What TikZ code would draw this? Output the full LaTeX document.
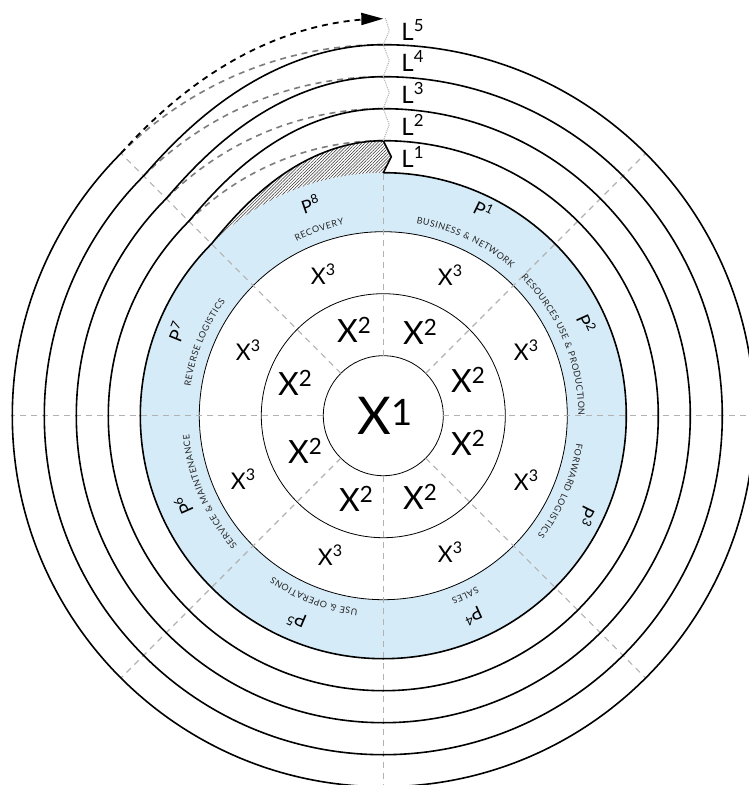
\documentclass[tikz,border=0pt]{standalone}
\usepackage{fontspec}
\setmainfont{Lato}
\usetikzlibrary{arrows.meta, patterns.meta}
\definecolor{bandblue}{RGB}{214,235,248}
\definecolor{raygray}{RGB}{178,178,178}
\definecolor{ringgray}{RGB}{125,125,125}
\newcommand{\catfont}{\fontsize{9}{10}\selectfont}
% letters of #3 (letter/width in em) set clockwise on radius #2, centred on angle #1
\newcommand{\arcword}[3]{%
    \gdef\arcsum{0}%
    \foreach \c/\w in {#3} {\pgfmathsetmacro\arctmp{\arcsum+\w*9+0.6}\xdef\arcsum{\arctmp}}%
    \pgfmathsetmacro\arctmp{#1+\arcsum/2/#2*180/pi}\xdef\arcpos{\arctmp}%
    \foreach \c/\w in {#3} {%
        \pgfmathsetmacro\chalf{(\w*9+0.6)/2/#2*180/pi}%
        \pgfmathsetmacro\cmid{\arcpos-\chalf}%
        \node[catletter, rotate=\cmid-90] at (\cmid:#2) {\c};%
        \pgfmathsetmacro\arctmp{\arcpos-2*\chalf}\xdef\arcpos{\arctmp}%
    }%
}

\begin{document}
\begin{tikzpicture}[x=1pt, y=1pt,
    declare function={rise(\t)=0.6*\t+1.8*\t^2-1.4*\t^3;},
    ray/.style={raygray, line width=1.1pt, dash pattern=on 6pt off 5pt},
    spiral/.style={black, line width=1.6pt},
    thinring/.style={black, line width=0.8pt},
    ringdash/.style={ringgray, line width=1.6pt, dash pattern=on 6pt off 5pt},
    xlab/.style={font=\fontsize{#1}{#1}\selectfont, inner sep=0pt},
    plab/.style={font=\fontsize{18}{18}\selectfont, inner sep=0pt},
    llab/.style={font=\fontsize{24}{24}\selectfont, inner sep=0pt, anchor=west},
    catletter/.style={inner sep=0pt, anchor=base, font=\catfont, text=black!85}]
    \useasboundingbox (-383.3,-369.3) rectangle (365.7,415.7);
    \fill[white] (-383.3,-369.3) rectangle (365.7,415.7);
    \clip (-383.3,-369.3) rectangle (365.7,415.7);

    % Blue band
    \fill[bandblue, even odd rule] (0,0) circle[radius=243pt] (0,0) circle[radius=184pt];

    % Hatched start of the spiral
    \fill[pattern={Lines[angle=45, distance=2.2pt, line width=0.5pt]}, pattern color=black!80]
        (0,275) -- (8,259) -- (0,243) arc[start angle=90, end angle=135, radius=243pt]
        -- plot[domain=135:90, samples=50] (\x:{243+32*rise((135-\x)/45)}) -- cycle;

    % Inner rings
    \draw[thinring] (0,0) circle[radius=60pt];
    \draw[thinring] (0,0) circle[radius=122pt];
    \draw[thinring] (0,0) circle[radius=184pt];

    % Sector rays
    \foreach \a/\e in {0/371, 45/371, 90/243, 135/371, 180/371, 225/371, 270/371, 315/371} {
        \draw[ray] (\a:60) -- (\a:\e);
    }

    % Closing arcs of the L rings
    \foreach \r in {275,307,339,371} {
        \draw[ringdash] (135:\r) arc[start angle=135, end angle=90, radius=\r pt];
    }

    % Spiral
    \draw[spiral, line join=round] (0,275) -- (8,259) -- (0,243);
    \foreach \r in {243,275,307,339} {
        \draw[spiral] (90:\r) arc[start angle=90, end angle=-225, radius=\r pt]
            -- plot[domain=135:90, samples=50] (\x:{\r+32*rise((135-\x)/45)});
    }
    \draw[spiral] (90:371) arc[start angle=90, end angle=-225, radius=371pt];
    \draw[spiral, line width=1.8pt, dash pattern=on 6pt off 5pt, -{Triangle[length=22pt, width=12pt]}]
        plot[domain=135:90, samples=50] (\x:{371+26*rise((135-\x)/45)});

    % Zigzag between the levels
    \draw[raygray, line width=1pt, densely dotted] (0,275) -- (6,291) -- (0,307) -- (6,323)
        -- (0,339) -- (6,355) -- (0,371) -- (6,385) -- (2,398);

    % Levels
    \foreach \n/\y in {1/259, 2/291, 3/323, 4/355, 5/386} {
        \node[llab] (l\n) at (18,\y) {L\textsuperscript{\n}};
    }

    % Core
    \node[xlab=52] (x1) at (2,0) {X\textsuperscript{1}};
    \foreach \p/\q [count=\i] in {37/84, 85/36, 85/-27, 37/-81, -27/-83, -78/-35, -88/33, -29/86} {
        \node[xlab=32] (xtwo\i) at (\p,\q) {X\textsuperscript{2}};
    }
    \foreach \p/\q [count=\i] in {67/141, 143/66, 143/-64, 67/-136, -53/-139, -140/-63, -135/66, -60/142} {
        \node[xlab=23] (xthree\i) at (\p,\q) {X\textsuperscript{3}};
    }

    % Phases
    \foreach \n/\a/\r in {1/64/229, 2/24.4/223, 3/-26.4/227, 4/-65.9/220, 5/-113/222, 6/-155.9/219, 7/157.9/223, 8/109/224} {
        \node[plab, rotate=\a-90] (p\n) at (\a:\r) {P\textsuperscript{\n}};
    }
    \arcword{64.6}{195}{B/0.63, U/0.71, S/0.53, I/0.29, N/0.75, E/0.56, S/0.53, S/0.53, ~/0.25, \&/0.70, ~/0.25, N/0.75, E/0.56, T/0.58, W/1.0, O/0.79, R/0.62, K/0.65}
    \arcword{22.5}{195}{R/0.62, E/0.56, S/0.53, O/0.79, U/0.71, R/0.62, C/0.66, E/0.56, S/0.53, ~/0.25, U/0.71, S/0.53, E/0.56, ~/0.25, \&/0.70, ~/0.25, P/0.58, R/0.62, O/0.79, D/0.73, U/0.71, C/0.66, T/0.58, I/0.29, O/0.79, N/0.75}
    \arcword{-23}{195}{F/0.54, O/0.79, R/0.62, W/1.0, A/0.68, R/0.62, D/0.73, ~/0.25, L/0.49, O/0.79, G/0.71, I/0.29, S/0.53, T/0.58, I/0.29, C/0.66, S/0.53}
    \arcword{-65.5}{195}{S/0.53, A/0.68, L/0.49, E/0.56, S/0.53}
    \arcword{-111}{195}{U/0.71, S/0.53, E/0.56, ~/0.25, \&/0.70, ~/0.25, O/0.79, P/0.58, E/0.56, R/0.62, A/0.68, T/0.58, I/0.29, O/0.79, N/0.75, S/0.53}
    \arcword{-156.4}{195}{S/0.53, E/0.56, R/0.62, V/0.68, I/0.29, C/0.66, E/0.56, ~/0.25, \&/0.70, ~/0.25, M/0.91, A/0.68, I/0.29, N/0.75, T/0.58, E/0.56, N/0.75, A/0.68, N/0.75, C/0.66, E/0.56}
    \arcword{157.7}{195}{R/0.62, E/0.56, V/0.68, E/0.56, R/0.62, S/0.53, E/0.56, ~/0.25, L/0.49, O/0.79, G/0.71, I/0.29, S/0.53, T/0.58, I/0.29, C/0.66, S/0.53}
    \arcword{109}{195}{R/0.62, E/0.56, C/0.66, O/0.79, V/0.68, E/0.56, R/0.62, Y/0.64}
\end{tikzpicture}
\end{document}
